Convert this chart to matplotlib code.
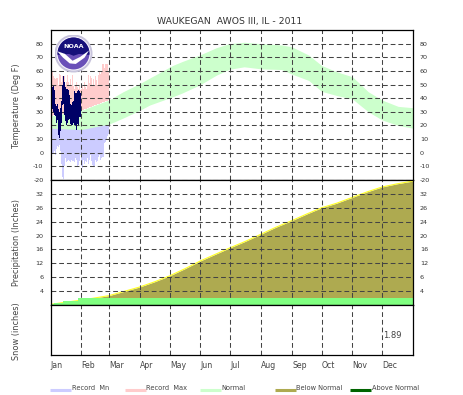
import numpy as np
import matplotlib
matplotlib.use("Agg")
import matplotlib.pyplot as plt
from matplotlib.lines import Line2D
from matplotlib.patches import Circle, Polygon, Wedge

W, H = 463, 395
plt.rcParams['font.family'] = ['DejaVu Sans']

month_days = [0, 31, 59, 90, 120, 151, 181, 212, 243, 273, 304, 334]
month_names = ['Jan', 'Feb', 'Mar', 'Apr', 'May', 'Jun', 'Jul', 'Aug', 'Sep', 'Oct', 'Nov', 'Dec']

normal_hi_days = [0, 15, 31, 45, 59, 73, 89, 100, 123, 133, 150, 167, 180, 195, 212, 233, 243, 260, 273, 288, 304, 320, 334, 350, 365]
normal_hi = [27, 29, 31, 35, 38.7, 44.7, 50.4, 54.8, 64, 67, 71.6, 77, 80, 81, 80, 79, 77.7, 71.6, 64, 59.4, 55.7, 44.7, 38.6, 34, 33]
normal_lo_days = [0, 31, 59, 75, 89, 100, 123, 135, 150, 163, 175, 195, 212, 233, 245, 260, 273, 288, 304, 320, 334, 350, 365]
normal_lo = [18, 17, 21, 26, 30.8, 35, 41, 44.5, 49.6, 55, 60.6, 63, 61.5, 61, 57, 53, 45, 42, 39.4, 30, 24, 20, 18]

record_max = [60, 60, 56, 56, 55, 54, 55, 55, 50, 58, 57, 52, 56, 53, 56, 50, 52, 57, 52, 50,
              54, 50, 57, 49, 47, 50, 52, 48, 47, 50, 46, 47, 49, 47, 52, 48, 47, 50, 57, 51,
              56, 55, 50, 54, 49, 56, 53, 50, 57, 60, 58, 60, 65, 65, 62, 65, 65, 65, 60]
record_min = [2, 0, -1, 0, 1, -2, 3, 5, 4, 6, 1, -8, -18, -19, -10, -4, -7, -6, -5, -6,
              -7, -5, -6, -6, -7, -4, -5, -10, -9, -6, -2, -10, -11, -5, -8, -6, -7, -4, -8, -5,
              -2, -6, -9, -10, -10, -5, -7, -6, -3, -2, -5, -4, -3, -3, 7, 8, 10, 12, 14]
actual_hi = [51, 50, 48, 49, 46, 36, 34, 36, 32, 30, 33, 38, 50, 56, 52, 48, 47, 47, 46, 42,
             36, 35, 37, 38, 45, 44, 44, 45, 46, 45, 44]
actual_lo = [34, 30, 32, 30, 28, 27, 22, 24, 13, 11, 16, 22, 35, 36, 28, 23, 20, 22, 24, 25,
             21, 20, 20, 22, 20, 20, 17, 21, 20, 26, 26]

normal_precip_days = [0, 31, 59, 90, 105, 120, 135, 151, 166, 181, 196, 212, 227, 243, 258, 273, 288, 304, 319, 334, 349, 365]
normal_precip = [0.2, 1.4, 2.7, 5.2, 6.7, 8.4, 10.4, 12.7, 14.6, 16.5, 18.3, 20.4, 22.4, 24.3, 26.2, 28, 29.3, 31, 32.6, 34, 34.9, 35.7]
actual_precip_days = [0, 4, 13, 28, 365]
actual_precip = [0.2, 0.45, 1.25, 1.89, 1.89]
snow_total = '1.89'
temp_ticks = [-20, -10, 0, 10, 20, 30, 40, 50, 60, 70, 80]
precip_ticks = [4, 8, 12, 16, 20, 24, 28, 32]
precip_tick_labels = ['4', '6', '12', '16', '20', '24', '26', '32']
legend_items = [('Record  Mn', '#CCCCFF'), ('Record  Max', '#FFCCCC'), ('Normal', '#CCFFCC'),
                ('Below Normal', '#AEAA50'), ('Above Normal', '#006400')]

def rect(x0, y0, x1, y1):
    return [x0 / W, 1 - y1 / H, (x1 - x0) / W, (y1 - y0) / H]

fig = plt.figure(figsize=(W / 100, H / 100), dpi=100, facecolor='white')
ax_t = fig.add_axes(rect(50.5, 30, 413, 180))
ax_p = fig.add_axes(rect(50.5, 180, 413, 305))
ax_s = fig.add_axes(rect(50.5, 305, 413, 355))

GRID = dict(color='#444444', lw=0.75, dashes=(4.6, 2.8))
for ax in (ax_t, ax_p, ax_s):
    ax.set_xlim(0, 365)
    ax.set_xticks(month_days[1:])
    ax.tick_params(length=0, labelbottom=False)
    ax.grid(True, axis='x', zorder=5, **GRID)
    ax.set_axisbelow(False)
    for s in ax.spines.values():
        s.set_linewidth(0.9)
        s.set_zorder(10)

# Temperature
d59 = np.arange(len(record_max))
hi_at = np.interp(d59, normal_hi_days, normal_hi)
lo_at = np.interp(d59, normal_lo_days, normal_lo)
ax_t.bar(d59, np.array(record_max) - hi_at, bottom=hi_at, width=1.02, align='edge', color='#FFCCCC', lw=0, zorder=1)
ax_t.bar(d59, lo_at - np.array(record_min), bottom=record_min, width=1.02, align='edge', color='#CCCCFF', lw=0, zorder=1)
ax_t.fill_between(normal_hi_days, np.interp(normal_hi_days, normal_lo_days, normal_lo), normal_hi,
                  color='#CCFFCC', lw=0, zorder=2)
ax_t.bar(np.arange(len(actual_hi)), np.array(actual_hi) - np.array(actual_lo), bottom=actual_lo,
         width=1.0, align='edge', color='#000066', lw=0, zorder=3)
ax_t.set_ylim(-20, 90)
ax_t.set_yticks(temp_ticks)
ax_t.set_yticklabels([str(v) for v in temp_ticks])
ax_t.grid(True, axis='y', zorder=5, **GRID)

# Precipitation
ax_p.fill_between(normal_precip_days, 0, normal_precip, color='#AEAA50', lw=0, zorder=1)
ax_p.plot(normal_precip_days, normal_precip, color='#FFFF22', lw=0.8, zorder=2)
ax_p.fill_between(actual_precip_days, np.interp(actual_precip_days, normal_precip_days, normal_precip),
                  actual_precip, where=[True, True, True, False, False], step='post',
                  color='#006400', lw=0, zorder=1.5)
ax_p.fill_between(actual_precip_days, 0, actual_precip, step='post', color='#80FF80', lw=0, zorder=3)
ax_p.set_ylim(0, 36)
ax_p.set_yticks(precip_ticks)
ax_p.set_yticklabels(precip_tick_labels)
ax_p.grid(True, axis='y', zorder=5, **GRID)

# Snow
ax_s.set_ylim(0, 1)
ax_s.set_yticks([])
ax_s.text(334.5, 0.38, snow_total, fontsize=6, color='#444444', va='center', ha='left')

for ax in (ax_t, ax_p):
    ax.tick_params(axis='y', left=False, right=False, labelleft=True, labelright=True,
                   labelsize=4.6, pad=5, labelcolor='#333333')

for d, name in zip(month_days, month_names):
    fig.text((50.5 + d * 0.994) / W, 1 - 365.5 / H, name, fontsize=5.6, color='#444444',
             ha='left', va='center')

fig.text(229.5 / W, 1 - 21.5 / H, 'WAUKEGAN  AWOS III, IL - 2011', fontsize=6.7, color='#333333',
         ha='center', va='center')
for y, fs, label in [(106, 5.9, 'Temperature (Deg F)'), (243, 5.9, 'Precipitation (Inches)'), (331, 5.9, 'Snow (inches)')]:
    fig.text(17 / W, 1 - y / H, label, fontsize=fs, color='#444444', rotation=90, ha='center', va='center')

for i, (label, col) in enumerate(legend_items):
    x0 = 50 + 75 * i
    fig.add_artist(Line2D([x0 / W, (x0 + 21) / W], [1 - 389.5 / H] * 2, color=col, lw=2.2,
                          solid_capstyle='butt'))
    fig.text((x0 + 21.5) / W, 1 - 387.5 / H, label, fontsize=4.8, color='#444444', ha='left', va='center')

# NOAA logo
lg = fig.add_axes(rect(54.5, 34.5, 92.5, 72.5), zorder=20)
lg.set_xlim(-1, 1); lg.set_ylim(-1, 1); lg.axis('off'); lg.patch.set_alpha(0)
lg.add_patch(Circle((0, 0), 1.0, fc='#C8C4DC', ec='none'))
lg.add_patch(Circle((0, 0), 0.90, fc='#F4F2FA', ec='none'))
lg.add_patch(Circle((0, 0), 0.84, fc='#6A50B8', ec='none'))
lg.add_patch(Wedge((0, 0), 0.84, -5, 185, fc='#16107A', ec='none'))
lg.add_patch(Polygon([[-0.84, 0.0], [-0.3, 0.0], [0.0, -0.12], [0.3, -0.02], [0.84, 0.0],
                      [0.6, 0.25], [-0.6, 0.25]], fc='#16107A', ec='none'))
lg.add_patch(Polygon([[-0.86, 0.12], [-0.45, -0.02], [-0.05, -0.38], [0.35, -0.18], [0.82, 0.16],
                      [0.58, -0.22], [0.12, -0.55], [-0.2, -0.52], [-0.55, -0.22]], fc='#FFFFFF', ec='none'))
lg.text(0, 0.36, 'NOAA', color='white', fontsize=4.6, fontweight='bold', ha='center', va='center')

fig.savefig('out.png', dpi=100)
